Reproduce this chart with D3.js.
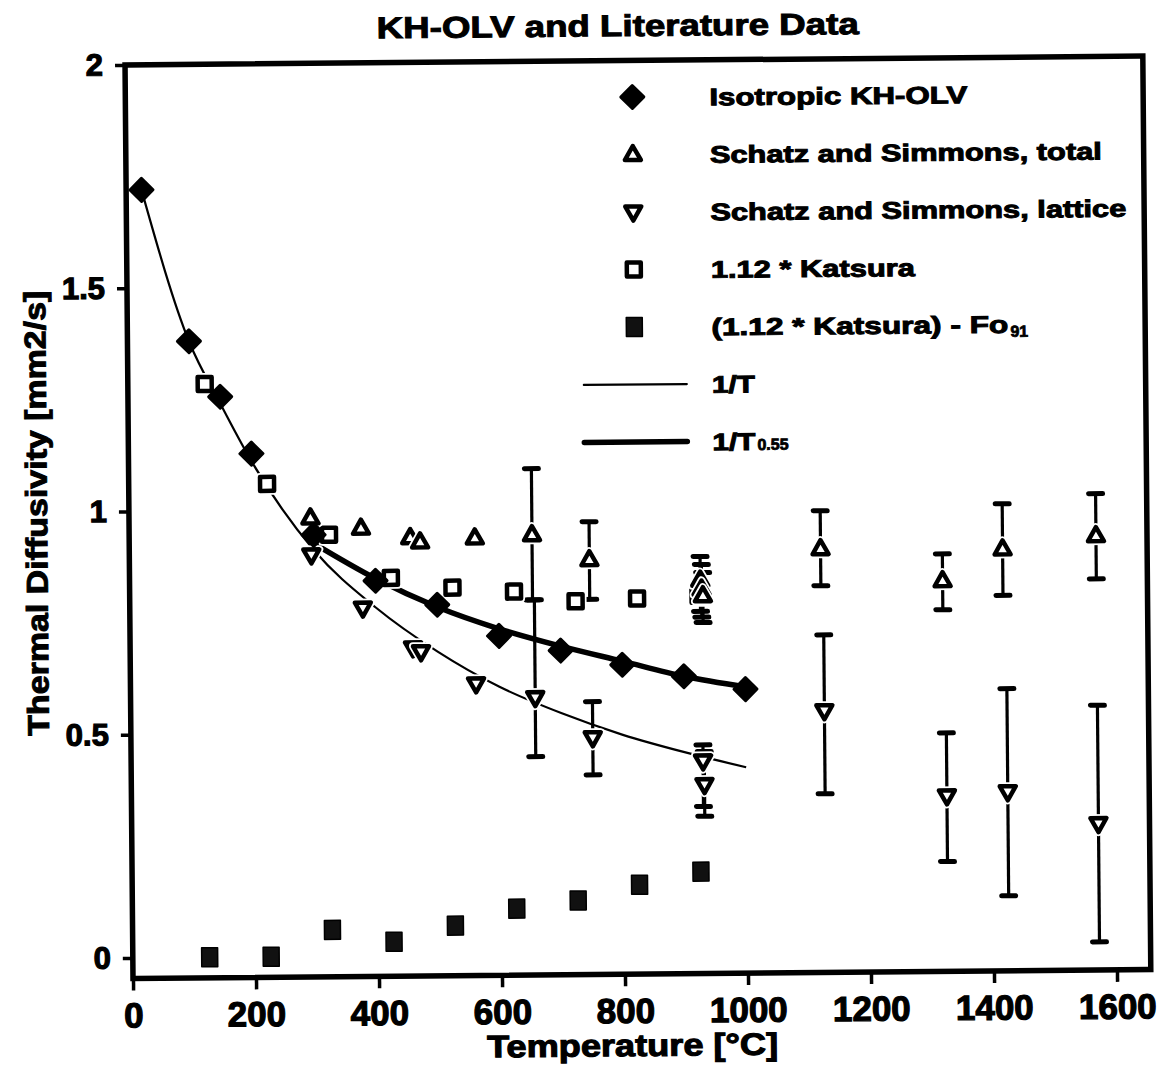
<!DOCTYPE html>
<html>
<head>
<meta charset="utf-8">
<script src="https://cdn.jsdelivr.net/npm/d3@7"></script>
<style>
  body { margin: 0; background: #fff; }
  text { font-family: "Liberation Sans", Arial, sans-serif; font-weight: bold; fill: #000; }
</style>
</head>
<body>
<svg id="chart" width="1166" height="1067"></svg>
<script>
// ---- data (temperature in °C, thermal diffusivity in mm2/s) ----
const kholvT = [25, 100, 150, 200, 300, 400, 500, 600, 700, 800, 900, 1000];
const kholvD = [1.72, 1.38, 1.255, 1.127, 0.944, 0.84, 0.785, 0.714, 0.68, 0.647, 0.62, 0.59];

const totalT  = [295, 377, 457, 473, 562, 655, 748, 928, 930, 932, 1124, 1322, 1420, 1572];
const totalD  = [0.982, 0.958, 0.936, 0.926, 0.934, 0.94, 0.883, 0.835, 0.815, 0.80, 0.903, 0.829, 0.899, 0.927];
const totalHi = [null, null, null, null, null, 1.088, 0.968, 0.888, 0.87, 0.852, 0.988, 0.889, 1.0, 1.021];
const totalLo = [null, null, null, null, null, 0.794, 0.794, 0.765, 0.752, 0.74, 0.82, 0.764, 0.795, 0.83];

const latticeT  = [296, 379, 460, 473, 562, 658, 751, 930, 932, 1128, 1326, 1425, 1572];
const latticeD  = [0.899, 0.779, 0.689, 0.68, 0.607, 0.575, 0.484, 0.43, 0.377, 0.54, 0.347, 0.355, 0.282];
const latticeHi = [null, null, null, null, null, 0.794, 0.565, 0.466, 0.451, 0.71, 0.488, 0.586, 0.547];
const latticeLo = [null, null, null, null, null, 0.443, 0.401, 0.328, 0.306, 0.354, 0.2, 0.122, 0.017];

const katsuraT = [125, 225, 325, 425, 525, 625, 725, 825, 925];
const katsuraD = [1.284, 1.059, 0.944, 0.846, 0.823, 0.813, 0.79, 0.795, 0.80];
const fo91D    = [0, 0, 0.059, 0.031, 0.066, 0.103, 0.12, 0.154, 0.182];

// fitted curves, sampled
const invT_T = [25, 100, 150, 200, 300, 400, 500, 600, 700, 800, 900, 1000];
const invT_D = [1.72, 1.38, 1.24, 1.11, 0.91, 0.78, 0.68, 0.60, 0.54, 0.49, 0.45, 0.415];
const pow_T  = [300, 400, 500, 600, 700, 800, 900, 1000];
const pow_D  = [0.925, 0.845, 0.78, 0.73, 0.69, 0.655, 0.62, 0.595];

const xTicks = [0, 200, 400, 600, 800, 1000, 1200, 1400, 1600];
const yTicks = [0, 0.5, 1, 1.5, 2];
const xExtent = [0, 1655];
const yExtent = [-0.046, 2];

const legendItems = [
  { type: "diamond", label: "Isotropic KH-OLV", len: 258 },
  { type: "up", label: "Schatz and Simmons, total", len: 392 },
  { type: "down", label: "Schatz and Simmons, lattice", len: 416 },
  { type: "square", label: "1.12 * Katsura", len: 204 },
  { type: "fsquare", label: "(1.12 * Katsura) - Fo", len: 297, sub: "91", subDy: 4 },
  { type: "thin", label: "1/T", len: 43 },
  { type: "thick", label: "1/T", len: 43, sub: "0.55", subDy: 0 }
];

// ---- scales ----
const x = d3.scaleLinear().domain([0, 1600]).range([129, 1113]);
const y = d3.scaleLinear().domain([0, 2]).range([953.5, 60.5]);

const svg = d3.select("#chart");
const g = svg.append("g").attr("transform", "rotate(-0.5 637 518)");

const shapes = {
  diamond: "M0,-11.5 L11.5,0 L0,11.5 L-11.5,0 Z",
  up: "M0,-8.5 L8,5.5 L-8,5.5 Z",
  down: "M0,8.5 L8,-5.5 L-8,-5.5 Z",
  square: "M-7,-7 H7 V7 H-7 Z",
  fsquare: "M-8,-9.5 H8 V9.5 H-8 Z"
};

function marker(sel, type, cx, cy) {
  const m = sel.append("g").attr("transform", `translate(${cx},${cy})`);
  if (type === "diamond") {
    m.append("path").attr("d", shapes.diamond).attr("fill", "#000")
      .attr("stroke", "#000").attr("stroke-width", 3).attr("stroke-linejoin", "round");
  } else if (type === "fsquare") {
    m.append("path").attr("d", shapes.fsquare).attr("fill", "#111")
      .attr("stroke", "#000").attr("stroke-width", 1.5).attr("stroke-linejoin", "round");
  } else {
    m.append("path").attr("d", shapes[type]).attr("fill", "#fff")
      .attr("stroke", "#fff").attr("stroke-width", 8).attr("stroke-linejoin", "round");
    m.append("path").attr("d", shapes[type]).attr("fill", "#fff")
      .attr("stroke", "#000").attr("stroke-width", 4.5).attr("stroke-linejoin", "round");
  }
}

// ---- frame ----
const fx0 = x(xExtent[0]), fx1 = x(xExtent[1]);
const fy0 = y(yExtent[1]), fy1 = y(yExtent[0]);
g.append("rect").attr("x", fx0).attr("y", fy0)
  .attr("width", fx1 - fx0).attr("height", fy1 - fy0)
  .attr("fill", "none").attr("stroke", "#000").attr("stroke-width", 5.5);

// ---- axes ----
const yAxis = d3.axisLeft(y).tickValues(yTicks).tickSize(10).tickPadding(12)
  .tickFormat(d => String(d));
const ya = g.append("g").attr("transform", `translate(${fx0},0)`).call(yAxis);
ya.select(".domain").remove();
ya.selectAll(".tick line").attr("stroke", "#000").attr("stroke-width", 3.5);
ya.selectAll(".tick text").attr("font-size", 31).attr("stroke", "#000").attr("stroke-width", 1.2)
  .attr("font-family", "Liberation Sans, Arial, sans-serif").attr("font-weight", "bold");

const xAxis = d3.axisBottom(x).tickValues(xTicks).tickSize(12).tickPadding(12)
  .tickFormat(d => String(d));
const xa = g.append("g").attr("transform", `translate(0,${fy1})`).call(xAxis);
xa.select(".domain").remove();
xa.selectAll(".tick line").attr("stroke", "#000").attr("stroke-width", 3.5);
xa.selectAll(".tick text").attr("font-size", 35).attr("stroke", "#000").attr("stroke-width", 1.2)
  .attr("font-family", "Liberation Sans, Arial, sans-serif").attr("font-weight", "bold");

// ---- titles ----
g.append("text").attr("x", 622).attr("y", 36).attr("text-anchor", "middle")
  .attr("font-size", 30).attr("stroke", "#000").attr("stroke-width", 1)
  .attr("textLength", 482).attr("lengthAdjust", "spacingAndGlyphs")
  .text("KH-OLV and Literature Data");
g.append("text").attr("x", 628).attr("y", 1056).attr("text-anchor", "middle")
  .attr("font-size", 31).attr("stroke", "#000").attr("stroke-width", 1.1)
  .attr("textLength", 291).attr("lengthAdjust", "spacingAndGlyphs")
  .text("Temperature [°C]");
g.append("text").attr("transform", "translate(47,508) rotate(-90)").attr("text-anchor", "middle")
  .attr("font-size", 30).attr("stroke", "#000").attr("stroke-width", 1)
  .attr("textLength", 445).attr("lengthAdjust", "spacingAndGlyphs")
  .text("Thermal Diffusivity [mm2/s]");

// ---- fitted curves ----
const line = d3.line().x(d => x(d[0])).y(d => y(d[1])).curve(d3.curveMonotoneX);
g.append("path").datum(invT_T.map((t, i) => [t, invT_D[i]]))
  .attr("d", line).attr("fill", "none").attr("stroke", "#000").attr("stroke-width", 2.2);
g.append("path").datum(pow_T.map((t, i) => [t, pow_D[i]]))
  .attr("d", line).attr("fill", "none").attr("stroke", "#000").attr("stroke-width", 5.5)
  .attr("stroke-linecap", "round");

// ---- error bars ----
function errorBars(T, hi, lo) {
  T.forEach((t, i) => {
    if (hi[i] == null) return;
    const cx = x(t);
    g.append("line").attr("x1", cx).attr("x2", cx).attr("y1", y(hi[i])).attr("y2", y(lo[i]))
      .attr("stroke", "#000").attr("stroke-width", 3.2);
    [hi[i], lo[i]].forEach(v => {
      g.append("line").attr("x1", cx - 7).attr("x2", cx + 7).attr("y1", y(v)).attr("y2", y(v))
        .attr("stroke", "#000").attr("stroke-width", 5).attr("stroke-linecap", "round");
    });
  });
}
errorBars(totalT, totalHi, totalLo);
errorBars(latticeT, latticeHi, latticeLo);

// ---- markers ----
katsuraT.forEach((t, i) => marker(g, "fsquare", x(t), y(fo91D[i])));
katsuraT.forEach((t, i) => marker(g, "square", x(t), y(katsuraD[i])));
latticeT.forEach((t, i) => marker(g, "down", x(t), y(latticeD[i])));
totalT.forEach((t, i) => marker(g, "up", x(t), y(totalD[i])));
kholvT.forEach((t, i) => marker(g, "diamond", x(t), y(kholvD[i])));

// ---- legend ----
const legX = 636, legTextX = 713, legY0 = 97, legStep = 57.5;
legendItems.forEach((it, i) => {
  const ly = legY0 + i * legStep;
  if (it.type === "thin" || it.type === "thick") {
    g.append("line").attr("x1", 585).attr("x2", 688).attr("y1", ly).attr("y2", ly)
      .attr("stroke", "#000").attr("stroke-width", it.type === "thin" ? 2.2 : 5.5)
      .attr("stroke-linecap", "round");
  } else {
    marker(g, it.type, legX, ly);
  }
  g.append("text").attr("x", legTextX).attr("y", ly + 9)
    .attr("font-size", 24).attr("stroke", "#000").attr("stroke-width", 1)
    .attr("textLength", it.len).attr("lengthAdjust", "spacingAndGlyphs")
    .text(it.label);
  if (it.sub) {
    g.append("text").attr("x", legTextX + it.len + 2).attr("y", ly + 9 + it.subDy)
      .attr("font-size", 16).attr("stroke", "#000").attr("stroke-width", 0.8)
      .text(it.sub);
  }
});
</script>
</body>
</html>
